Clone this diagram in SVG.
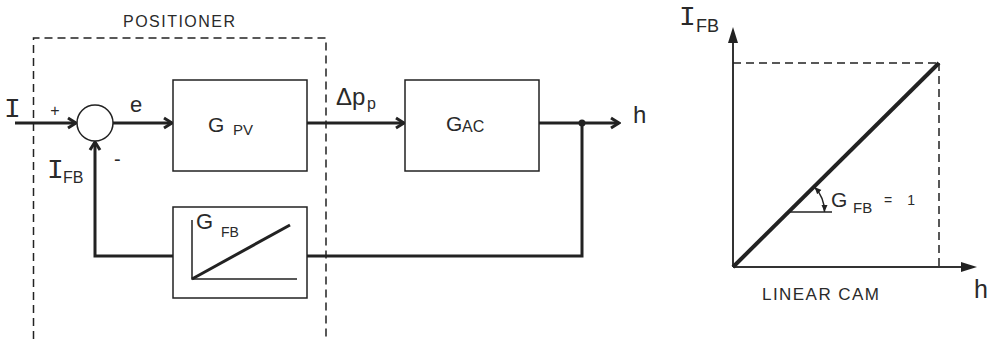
<svg xmlns="http://www.w3.org/2000/svg" width="997" height="339" viewBox="0 0 997 339">
<style>
  .t { font-family: "Liberation Sans", "DejaVu Sans", sans-serif; fill: #2a2a2a; }
  .m { font-family: "Liberation Mono", "DejaVu Sans Mono", monospace; fill: #2a2a2a; }
  .box { fill: #fff; stroke: #222; stroke-width: 1.5; }
  .thick { fill: none; stroke: #222; stroke-width: 3; }
  .thin { fill: none; stroke: #222; stroke-width: 1.5; }
  .dash { fill: none; stroke: #222; stroke-width: 1.5; stroke-dasharray: 8 5; }
  .axis { fill: none; stroke: #333; stroke-width: 2; }
</style>
<defs>
  <marker id="chev" viewBox="-12 -7 14 14" refX="0" refY="0" markerWidth="14" markerHeight="14" markerUnits="userSpaceOnUse" orient="auto">
    <path d="M-8,-5 L0,0 L-8,5" fill="none" stroke="#222" stroke-width="3" stroke-linejoin="miter"/>
  </marker>
  <marker id="tri" viewBox="-7 -4 8 8" refX="0" refY="0" markerWidth="8" markerHeight="8" markerUnits="userSpaceOnUse" orient="auto-start-reverse">
    <path d="M-7,-3 L0,0 L-7,3 Z" fill="#222"/>
  </marker>
</defs>

<g id="positioner">
  <path class="dash" d="M33.5,339 V38 H326 V339"/>
  <text class="t" x="123" y="27" font-size="16" textLength="112" lengthAdjust="spacing">POSITIONER</text>
</g>

<g id="connectors">
  <line class="thick" x1="15" y1="123" x2="76" y2="123" marker-end="url(#chev)"/>
  <line class="thick" x1="113" y1="123" x2="172" y2="123" marker-end="url(#chev)"/>
  <line class="thick" x1="307" y1="123" x2="404" y2="123" marker-end="url(#chev)"/>
  <line class="thick" x1="539" y1="123" x2="619" y2="123" marker-end="url(#chev)"/>
  <polyline class="thick" points="582,123 582,256 307,256"/>
  <polyline class="thick" points="173,256 95,256 95,142" marker-end="url(#chev)"/>
  <circle cx="582" cy="123" r="3.5" fill="#222"/>
</g>

<g id="sum">
  <circle cx="95" cy="123" r="18" fill="#fff" stroke="#222" stroke-width="1.5"/>
  <text class="t" x="55" y="116" font-size="16" text-anchor="middle">+</text>
  <text class="t" x="114" y="166" font-size="20">-</text>
</g>

<g id="labels">
  <text class="m" x="4" y="117" font-size="28">I</text>
  <text class="t" x="130" y="112" font-size="22">e</text>
  <text class="t" x="336" y="105" font-size="24">Δp</text>
  <text class="t" x="367" y="109" font-size="16">p</text>
  <text class="t" x="633" y="123" font-size="24">h</text>
  <text class="m" x="47" y="178" font-size="28">I</text>
  <text class="t" x="63" y="183" font-size="16">FB</text>
</g>

<g id="gpv">
  <rect class="box" x="173" y="80" width="134" height="91"/>
  <text class="t" x="208" y="132" font-size="21">G</text>
  <text class="t" x="233" y="135" font-size="15">PV</text>
</g>

<g id="gac">
  <rect class="box" x="405" y="80" width="134" height="91"/>
  <text class="t" x="446" y="131" font-size="21">G</text>
  <text class="t" x="462" y="132" font-size="16">AC</text>
</g>

<g id="gfb">
  <rect class="box" x="173" y="207" width="134" height="91"/>
  <polyline class="thin" points="192,220 192,279 297,279"/>
  <line class="thick" x1="192" y1="279" x2="290" y2="225"/>
  <text class="t" x="196" y="229" font-size="22">G</text>
  <text class="t" x="221" y="237" font-size="14">FB</text>
</g>

<g id="cam-graph">
  <line class="axis" x1="733" y1="267" x2="733" y2="42"/>
  <polygon points="733,27 728,43 738,43" fill="#222"/>
  <line class="axis" x1="733" y1="267" x2="962" y2="267"/>
  <polygon points="977,267 961,262 961,272" fill="#222"/>
  <line class="dash" x1="733" y1="63" x2="939" y2="63"/>
  <line class="dash" x1="939" y1="63" x2="939" y2="267"/>
  <line x1="733" y1="267" x2="939" y2="63" stroke="#222" stroke-width="4"/>
  <line class="thin" x1="790" y1="212" x2="832" y2="212"/>
  <path class="thin" d="M814.5,187 A36,36 0 0 1 824.5,212" marker-start="url(#tri)" marker-end="url(#tri)"/>
  <text class="m" x="679" y="25" font-size="28">I</text>
  <text class="t" x="696" y="32" font-size="18">FB</text>
  <text class="t" x="831" y="207" font-size="21">G</text>
  <text class="t" x="853" y="213" font-size="15">FB</text>
  <text class="t" x="884" y="205" font-size="14" textLength="31" lengthAdjust="spacing">= 1</text>
  <text class="t" x="762" y="300" font-size="17" textLength="117" lengthAdjust="spacing">LINEAR CAM</text>
  <text class="t" x="974" y="298" font-size="25">h</text>
</g>
</svg>
